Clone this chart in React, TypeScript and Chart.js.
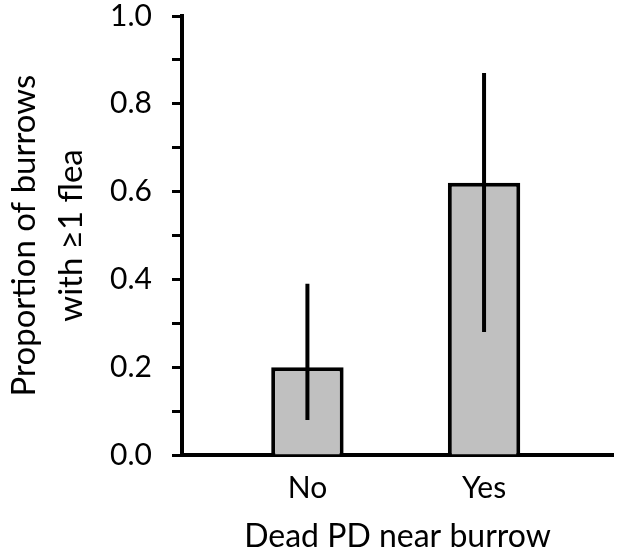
import React, { useEffect, useRef } from "react";
import { Chart, registerables } from "chart.js";

Chart.register(...registerables);

const categories = ["No", "Yes"];
const proportions = [0.2, 0.62];
const ciLower = [0.08, 0.28];
const ciUpper = [0.39, 0.87];
const yTickStep = 0.1;

const FONT = "Lato, 'Open Sans', sans-serif";

const errorBarPlugin = {
  id: "errorBars",
  afterDatasetsDraw(chart: any) {
    const { ctx, scales } = chart;
    const meta = chart.getDatasetMeta(0);
    const y = scales.y;
    ctx.save();
    ctx.strokeStyle = "#000";
    ctx.lineWidth = 4;
    meta.data.forEach((bar: any, i: number) => {
      ctx.beginPath();
      ctx.moveTo(bar.x, y.getPixelForValue(ciLower[i]));
      ctx.lineTo(bar.x, y.getPixelForValue(ciUpper[i]));
      ctx.stroke();
    });
    ctx.restore();
  },
};

export default function App() {
  const ref = useRef<HTMLCanvasElement>(null);
  useEffect(() => {
    const chart = new Chart(ref.current!, {
      type: "bar",
      data: {
        datasets: [
          {
            data: proportions.map((v, i) => ({ x: i, y: v })),
            backgroundColor: "#c0c0c0",
            borderColor: "#000",
            borderWidth: 4,
            barPercentage: 0.41,
            categoryPercentage: 1,
          },
        ],
      },
      options: {
        animation: false,
        responsive: false,
        maintainAspectRatio: false,
        layout: { padding: { top: 16, right: 17, left: 0, bottom: 0 } },
        plugins: { legend: { display: false }, tooltip: { enabled: false } },
        scales: {
          x: {
            type: "linear",
            offset: false,
            min: -0.71,
            max: 1.73,
            afterBuildTicks: (s: any) => {
              s.ticks = categories.map((_, i) => ({ value: i }));
            },
            afterFit: (s: any) => {
              s.height = 97;
              s.paddingLeft = 0;
              s.paddingRight = 0;
            },
            ticks: {
              callback: (v: any) => categories[v as number] ?? "",
              color: "#000",
              font: { family: FONT, size: 30 },
              padding: 15,
            },
            grid: { display: false, drawTicks: false },
            border: { display: true, color: "#000", width: 4 },
            title: {
              display: true,
              text: "Dead PD near burrow",
              color: "#000",
              font: { family: FONT, size: 32 },
              padding: { top: 4, bottom: -4 },
            },
          },
          y: {
            min: 0,
            max: 1,
            afterFit: (s: any) => {
              s.width = 182;
              s.paddingTop = 0;
              s.paddingBottom = 0;
            },
            ticks: {
              stepSize: yTickStep,
              callback: (v: any, i: number) => (i % 2 === 0 ? Number(v).toFixed(1) : ""),
              color: "#000",
              font: { family: FONT, size: 30 },
              padding: 20,
            },
            grid: {
              display: true,
              drawOnChartArea: false,
              drawTicks: true,
              tickLength: 10,
              tickWidth: 3,
              tickColor: "#000",
            },
            border: { display: true, color: "#000", width: 4 },
            title: {
              display: true,
              text: ["Proportion of burrows", "with ≥1 flea"],
              color: "#000",
              font: { family: FONT, size: 33, lineHeight: 1.45 },
              padding: { top: 0, bottom: 4 },
            },
          },
        },
      },
      plugins: [errorBarPlugin],
    } as any);
    return () => chart.destroy();
  }, []);
  return (
    <div style={{ position: "fixed", left: 0, top: 0, width: 630, height: 552, background: "#fff" }}>
      <canvas ref={ref} width={630} height={552} />
    </div>
  );
}
